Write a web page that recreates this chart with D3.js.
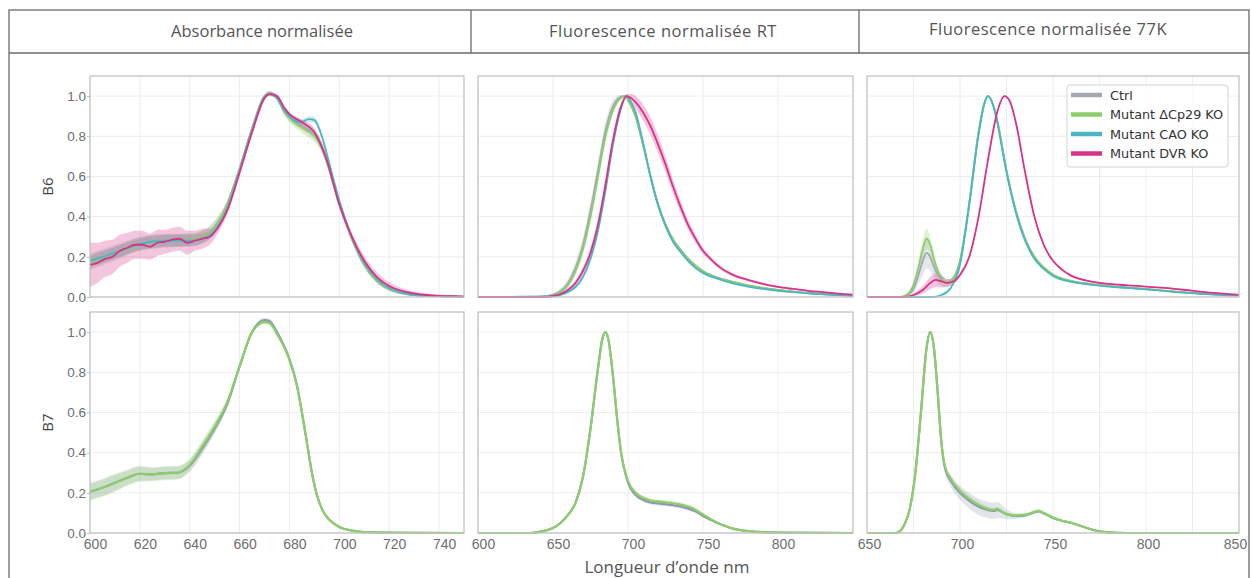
<!DOCTYPE html>
<html>
<head>
<meta charset="utf-8">
<script src="https://cdn.jsdelivr.net/npm/d3@7"></script>
<style>
  body { margin: 0; background: #fff; }
  svg { font-family: "Open Sans", sans-serif; }
  .tick text { fill: #6e6e6e; font-size: 13.5px; }
  .domain { display: none; }
</style>
</head>
<body>
<script>
// ---- data: [wavelength nm, mean, sd] ----
const columns = ["Absorbance normalisée", "Fluorescence normalisée RT", "Fluorescence normalisée 77K"];
const rows = ["B6", "B7"];
const seriesNames = ["Ctrl", "Mutant ΔCp29 KO", "Mutant CAO KO", "Mutant DVR KO"];
const seriesColors = ["#a3a8b3", "#8ccd6c", "#4cb5c3", "#d9328a"];
const yTicks = [0, 0.2, 0.4, 0.6, 0.8, 1.0];
const xTicksAbs = [600, 620, 640, 660, 680, 700, 720, 740];
const xTicksRT = [600, 650, 700, 750, 800];
const xTicks77 = [650, 700, 750, 800, 850];
const xGrid77 = [675, 700, 725, 750, 775, 800, 825];

// B6 absorbance
const absB6_ctrl = [[600,0.175,0.04],[610,0.22,0.04],[620,0.265,0.035],[630,0.28,0.035],[640,0.285,0.03],[645,0.3,0.03],[650,0.35,0.03],[655,0.46,0.02],[660,0.64,0.015],[665,0.84,0.01],[670,1.0,0.01],[672,1.015,0.01],[675,0.99,0.01],[678,0.92,0.015],[680,0.895,0.02],[684,0.86,0.02],[688,0.83,0.025],[690,0.81,0.025],[693,0.75,0.02],[695,0.68,0.02],[700,0.47,0.015],[705,0.29,0.015],[710,0.16,0.015],[715,0.08,0.01],[720,0.04,0.01],[725,0.02,0.008],[730,0.01,0.005],[740,0.004,0.004],[750,0.002,0.003]];
const absB6_cp29 = [[600,0.17,0.03],[610,0.22,0.03],[620,0.26,0.03],[630,0.28,0.03],[640,0.285,0.03],[645,0.3,0.03],[650,0.35,0.03],[655,0.46,0.02],[660,0.64,0.015],[665,0.84,0.01],[670,1.0,0.01],[672,1.015,0.01],[675,0.99,0.01],[678,0.92,0.015],[680,0.89,0.02],[684,0.85,0.025],[688,0.82,0.03],[690,0.8,0.03],[693,0.74,0.025],[695,0.67,0.02],[700,0.46,0.015],[705,0.29,0.015],[710,0.16,0.015],[715,0.08,0.01],[720,0.04,0.01],[725,0.02,0.008],[730,0.01,0.005],[740,0.004,0.004],[750,0.002,0.003]];
const absB6_cao = [[600,0.18,0.03],[610,0.22,0.03],[620,0.265,0.03],[630,0.28,0.03],[640,0.28,0.03],[645,0.29,0.025],[650,0.33,0.02],[655,0.44,0.02],[660,0.63,0.015],[665,0.83,0.01],[670,0.995,0.01],[672,1.01,0.01],[675,0.99,0.01],[678,0.93,0.01],[680,0.9,0.01],[684,0.87,0.01],[688,0.885,0.015],[690,0.88,0.015],[693,0.8,0.015],[695,0.71,0.015],[700,0.48,0.015],[705,0.3,0.015],[710,0.17,0.015],[715,0.09,0.01],[720,0.045,0.01],[725,0.022,0.008],[730,0.01,0.005],[740,0.004,0.004],[750,0.002,0.003]];
const absB6_dvr = [[600,0.16,0.11],[603,0.17,0.1],[606,0.19,0.09],[609,0.2,0.085],[612,0.23,0.08],[615,0.245,0.075],[618,0.26,0.07],[621,0.26,0.07],[624,0.25,0.065],[627,0.27,0.065],[630,0.275,0.06],[633,0.285,0.06],[636,0.29,0.06],[639,0.27,0.06],[642,0.28,0.05],[645,0.29,0.05],[648,0.3,0.04],[651,0.34,0.03],[655,0.43,0.02],[660,0.62,0.02],[665,0.82,0.015],[670,0.99,0.01],[672,1.01,0.01],[675,1.0,0.01],[678,0.94,0.01],[680,0.91,0.01],[685,0.87,0.015],[690,0.82,0.02],[695,0.68,0.02],[700,0.46,0.02],[705,0.3,0.02],[710,0.18,0.025],[715,0.1,0.025],[720,0.055,0.02],[725,0.03,0.015],[730,0.018,0.01],[735,0.01,0.008],[740,0.006,0.006],[745,0.004,0.005],[750,0.002,0.004]];

// B6 fluorescence RT
const rtB6_ctrl = [[600,0,0],[640,0,0.001],[645,0.004,0.003],[650,0.012,0.006],[655,0.03,0.012],[660,0.07,0.02],[665,0.145,0.03],[670,0.26,0.04],[675,0.43,0.045],[680,0.63,0.045],[685,0.83,0.04],[690,0.95,0.03],[695,0.995,0.01],[698,1.0,0.005],[700,0.98,0.01],[705,0.9,0.015],[710,0.76,0.02],[715,0.6,0.02],[720,0.46,0.02],[725,0.36,0.015],[730,0.285,0.015],[735,0.235,0.01],[740,0.19,0.01],[745,0.155,0.01],[750,0.128,0.008],[760,0.095,0.006],[770,0.075,0.005],[780,0.058,0.004],[790,0.045,0.004],[800,0.035,0.003],[810,0.027,0.003],[820,0.02,0.002],[830,0.015,0.002],[840,0.011,0.002],[850,0.008,0.002]];
const rtB6_cp29 = [[600,0,0],[640,0,0.001],[645,0.003,0.003],[650,0.01,0.005],[655,0.025,0.01],[660,0.06,0.015],[665,0.13,0.02],[670,0.24,0.03],[675,0.4,0.035],[680,0.6,0.035],[685,0.8,0.03],[690,0.93,0.025],[695,0.99,0.01],[698,1.0,0.005],[700,0.98,0.01],[705,0.9,0.015],[710,0.76,0.02],[715,0.6,0.02],[720,0.46,0.02],[725,0.36,0.015],[730,0.285,0.015],[735,0.235,0.01],[740,0.19,0.01],[745,0.155,0.01],[750,0.128,0.008],[760,0.095,0.006],[770,0.075,0.005],[780,0.058,0.004],[790,0.045,0.004],[800,0.035,0.003],[810,0.027,0.003],[820,0.02,0.002],[830,0.015,0.002],[840,0.011,0.002],[850,0.008,0.002]];
const rtB6_cao = [[600,0,0],[650,0.004,0.002],[655,0.01,0.004],[660,0.025,0.006],[665,0.05,0.01],[670,0.1,0.01],[675,0.19,0.015],[680,0.33,0.015],[685,0.53,0.015],[690,0.76,0.015],[695,0.93,0.01],[699,1.0,0.005],[702,0.97,0.01],[705,0.92,0.01],[710,0.77,0.01],[715,0.6,0.01],[720,0.46,0.01],[725,0.355,0.01],[730,0.275,0.008],[735,0.225,0.008],[740,0.18,0.006],[745,0.145,0.006],[750,0.12,0.005],[760,0.09,0.004],[770,0.068,0.004],[780,0.052,0.003],[790,0.04,0.003],[800,0.031,0.003],[810,0.024,0.002],[820,0.018,0.002],[830,0.013,0.002],[840,0.009,0.002],[850,0.006,0.002]];
const rtB6_dvr = [[600,0,0],[645,0,0.001],[650,0.005,0.003],[655,0.015,0.006],[660,0.035,0.01],[665,0.07,0.015],[670,0.13,0.02],[675,0.22,0.025],[680,0.36,0.03],[685,0.56,0.03],[690,0.78,0.03],[695,0.94,0.02],[699,1.0,0.01],[702,0.99,0.02],[705,0.97,0.03],[710,0.92,0.04],[715,0.85,0.045],[720,0.76,0.045],[725,0.66,0.04],[730,0.55,0.035],[735,0.45,0.03],[740,0.36,0.025],[745,0.29,0.02],[750,0.23,0.015],[755,0.19,0.012],[760,0.155,0.01],[770,0.11,0.008],[780,0.085,0.006],[790,0.065,0.005],[800,0.05,0.005],[810,0.04,0.004],[820,0.031,0.004],[830,0.024,0.003],[840,0.017,0.003],[850,0.012,0.003]];

// B6 fluorescence 77K
const k77B6_ctrl = [[650,0,0],[668,0,0.002],[672,0.01,0.01],[675,0.04,0.02],[678,0.12,0.05],[680,0.18,0.07],[682,0.22,0.08],[684,0.2,0.07],[686,0.15,0.05],[688,0.11,0.04],[690,0.085,0.03],[693,0.07,0.02],[696,0.085,0.01],[700,0.18,0.01],[705,0.47,0.01],[710,0.82,0.01],[713,0.96,0.01],[715,1.0,0.005],[718,0.95,0.01],[720,0.88,0.01],[725,0.63,0.01],[730,0.43,0.01],[735,0.29,0.01],[740,0.2,0.008],[745,0.145,0.006],[750,0.11,0.005],[760,0.078,0.004],[770,0.064,0.004],[780,0.054,0.003],[790,0.046,0.003],[800,0.039,0.003],[810,0.031,0.002],[820,0.023,0.002],[830,0.016,0.002],[840,0.011,0.002],[850,0.008,0.002]];
const k77B6_cp29 = [[650,0,0],[668,0,0.002],[672,0.015,0.01],[675,0.06,0.02],[678,0.16,0.04],[680,0.24,0.05],[682,0.29,0.05],[684,0.26,0.04],[686,0.19,0.03],[688,0.13,0.02],[690,0.095,0.015],[693,0.072,0.01],[696,0.09,0.01],[700,0.18,0.01],[705,0.47,0.01],[710,0.82,0.01],[713,0.96,0.01],[715,1.0,0.005],[718,0.95,0.01],[720,0.88,0.01],[725,0.63,0.01],[730,0.43,0.01],[735,0.29,0.01],[740,0.2,0.008],[745,0.148,0.006],[750,0.112,0.005],[760,0.08,0.004],[770,0.065,0.004],[780,0.055,0.003],[790,0.047,0.003],[800,0.04,0.003],[810,0.032,0.002],[820,0.024,0.002],[830,0.017,0.002],[840,0.012,0.002],[850,0.008,0.002]];
const k77B6_cao = [[650,0,0],[685,0,0.002],[690,0.01,0.003],[695,0.045,0.005],[700,0.16,0.008],[705,0.46,0.01],[710,0.81,0.01],[713,0.96,0.01],[715,1.0,0.005],[718,0.95,0.01],[720,0.87,0.01],[725,0.62,0.01],[730,0.42,0.008],[735,0.28,0.008],[740,0.19,0.006],[745,0.14,0.005],[750,0.105,0.004],[760,0.075,0.004],[770,0.062,0.003],[780,0.052,0.003],[790,0.045,0.003],[800,0.038,0.003],[810,0.03,0.002],[820,0.022,0.002],[830,0.016,0.002],[840,0.011,0.002],[850,0.008,0.002]];
const k77B6_dvr = [[650,0,0],[670,0,0.002],[675,0.01,0.005],[680,0.035,0.02],[684,0.07,0.03],[687,0.085,0.035],[690,0.078,0.03],[693,0.07,0.02],[697,0.08,0.01],[700,0.11,0.01],[705,0.2,0.01],[710,0.4,0.01],[715,0.68,0.01],[720,0.92,0.01],[724,1.0,0.005],[727,0.97,0.01],[730,0.87,0.01],[735,0.62,0.01],[740,0.4,0.01],[745,0.26,0.008],[750,0.18,0.006],[755,0.135,0.005],[760,0.105,0.005],[770,0.078,0.004],[780,0.065,0.004],[790,0.058,0.003],[800,0.052,0.003],[810,0.045,0.003],[820,0.036,0.003],[830,0.026,0.002],[840,0.018,0.002],[850,0.011,0.002]];

// B7 (ctrl and ΔCp29 only)
const absB7_ctrl = [[600,0.205,0.04],[605,0.225,0.04],[610,0.25,0.04],[615,0.275,0.035],[620,0.295,0.035],[625,0.292,0.03],[630,0.298,0.03],[635,0.3,0.03],[640,0.335,0.03],[645,0.42,0.03],[650,0.52,0.025],[655,0.64,0.02],[660,0.83,0.015],[665,1.0,0.012],[670,1.06,0.012],[672,1.055,0.012],[675,1.0,0.01],[680,0.865,0.01],[683,0.735,0.01],[685,0.6,0.01],[687,0.45,0.01],[689,0.3,0.01],[691,0.19,0.008],[693,0.12,0.006],[695,0.08,0.005],[700,0.03,0.004],[705,0.012,0.003],[710,0.004,0.003],[720,0.002,0.002],[730,0.001,0.002],[750,0,0.001]];
const absB7_cp29 = [[600,0.205,0.045],[605,0.225,0.045],[610,0.25,0.045],[615,0.275,0.04],[620,0.295,0.04],[625,0.292,0.035],[630,0.298,0.035],[635,0.3,0.035],[640,0.34,0.03],[645,0.43,0.03],[650,0.53,0.03],[655,0.65,0.02],[660,0.83,0.015],[665,1.0,0.01],[670,1.05,0.01],[672,1.045,0.01],[675,0.99,0.01],[680,0.86,0.01],[683,0.73,0.01],[685,0.6,0.01],[687,0.45,0.01],[689,0.3,0.01],[691,0.19,0.008],[693,0.12,0.006],[695,0.08,0.005],[700,0.03,0.004],[705,0.012,0.003],[710,0.004,0.003],[720,0.002,0.002],[730,0.001,0.002],[750,0,0.001]];
const rtB7_ctrl = [[600,0,0],[635,0,0.001],[640,0.005,0.002],[645,0.012,0.003],[650,0.025,0.004],[655,0.05,0.005],[660,0.09,0.006],[665,0.15,0.008],[670,0.28,0.01],[675,0.52,0.01],[680,0.82,0.01],[683,0.97,0.008],[685,1.0,0.005],[687,0.96,0.008],[690,0.78,0.01],[693,0.55,0.01],[695,0.42,0.01],[700,0.25,0.01],[705,0.19,0.01],[710,0.165,0.01],[715,0.152,0.01],[720,0.147,0.01],[725,0.143,0.01],[730,0.138,0.01],[735,0.132,0.01],[740,0.122,0.01],[745,0.108,0.008],[750,0.085,0.006],[755,0.066,0.005],[760,0.048,0.004],[765,0.034,0.003],[770,0.022,0.002],[775,0.014,0.002],[780,0.009,0.002],[790,0.004,0.001],[800,0.002,0.001],[850,0,0]];
const rtB7_cp29 = [[600,0,0],[635,0,0.001],[640,0.005,0.002],[645,0.012,0.003],[650,0.025,0.004],[655,0.05,0.005],[660,0.09,0.006],[665,0.15,0.008],[670,0.28,0.01],[675,0.52,0.01],[680,0.82,0.01],[683,0.97,0.008],[685,1.0,0.005],[687,0.96,0.008],[690,0.78,0.01],[693,0.55,0.01],[695,0.42,0.01],[700,0.26,0.01],[705,0.2,0.01],[710,0.175,0.01],[715,0.162,0.01],[720,0.157,0.01],[725,0.153,0.01],[730,0.148,0.01],[735,0.142,0.01],[740,0.132,0.01],[745,0.116,0.008],[750,0.092,0.006],[755,0.07,0.005],[760,0.05,0.004],[765,0.035,0.003],[770,0.022,0.002],[775,0.014,0.002],[780,0.009,0.002],[790,0.004,0.001],[800,0.002,0.001],[850,0,0]];
const k77B7_ctrl = [[650,0,0],[665,0,0.002],[667,0.005,0.003],[670,0.04,0.005],[673,0.12,0.008],[676,0.3,0.01],[679,0.6,0.01],[682,0.92,0.01],[684,1.0,0.005],[686,0.92,0.01],[688,0.7,0.01],[690,0.45,0.015],[692,0.32,0.02],[695,0.26,0.03],[700,0.2,0.035],[705,0.16,0.04],[710,0.13,0.04],[715,0.115,0.04],[718,0.11,0.04],[720,0.115,0.04],[722,0.108,0.035],[725,0.093,0.025],[730,0.085,0.015],[735,0.088,0.01],[740,0.103,0.008],[742,0.108,0.008],[745,0.098,0.008],[750,0.075,0.006],[755,0.06,0.005],[760,0.05,0.004],[765,0.035,0.003],[770,0.02,0.002],[775,0.008,0.002],[780,0.003,0.001],[790,0,0.001],[850,0,0]];
const k77B7_cp29 = [[650,0,0],[665,0,0.002],[667,0.005,0.003],[670,0.04,0.005],[673,0.12,0.008],[676,0.3,0.01],[679,0.6,0.01],[682,0.92,0.01],[684,1.0,0.005],[686,0.92,0.01],[688,0.7,0.01],[690,0.45,0.012],[692,0.33,0.012],[695,0.27,0.015],[700,0.21,0.015],[705,0.17,0.015],[710,0.14,0.015],[715,0.12,0.012],[718,0.115,0.01],[720,0.12,0.01],[722,0.11,0.01],[725,0.095,0.008],[730,0.087,0.008],[735,0.09,0.008],[740,0.105,0.008],[742,0.11,0.008],[745,0.1,0.008],[750,0.077,0.006],[755,0.061,0.005],[760,0.05,0.004],[765,0.035,0.003],[770,0.02,0.002],[775,0.008,0.002],[780,0.003,0.001],[790,0,0.001],[850,0,0]];

// ---- layout ----
const W = 1251, H = 578;
const svg = d3.select("body").append("svg").attr("width", W).attr("height", H);

// outer frame with header row
svg.append("rect").attr("x", 9).attr("y", 10).attr("width", 1240).attr("height", 600)
  .attr("fill", "none").attr("stroke", "#6a6a6a").attr("stroke-width", 1.3);
svg.append("line").attr("x1", 9).attr("x2", 1249).attr("y1", 53).attr("y2", 53)
  .attr("stroke", "#6a6a6a").attr("stroke-width", 1.3);
[471, 859].forEach(x => svg.append("line").attr("x1", x).attr("x2", x).attr("y1", 10).attr("y2", 53)
  .attr("stroke", "#6a6a6a").attr("stroke-width", 1.3));
const headerX = [262, 663, 1048];
const headerY = [37, 37, 35];
columns.forEach((c, i) => svg.append("text").attr("x", headerX[i]).attr("y", headerY[i])
  .attr("text-anchor", "middle").attr("fill", "#555").style("font-size", "16.5px")
  .style("letter-spacing", i === 0 ? "0px" : "0.5px").text(c));

const colX = [[90, 464], [478, 853], [867, 1239]];
const colDomain = [[600, 750], [600, 850], [650, 850]];
const rowY = [[297, 76], [533, 312]];
const xGrids = [xTicksAbs, xTicksRT, xGrid77];
const xLabels = [xTicksAbs, xTicksRT, xTicks77];
const labelShift = [5, 5, 2];

const panelData = [
  [[absB6_ctrl, absB6_cp29, absB6_cao, absB6_dvr], [rtB6_ctrl, rtB6_cp29, rtB6_cao, rtB6_dvr], [k77B6_ctrl, k77B6_cp29, k77B6_cao, k77B6_dvr]],
  [[absB7_ctrl, absB7_cp29], [rtB7_ctrl, rtB7_cp29], [k77B7_ctrl, k77B7_cp29]]
];

rows.forEach((rowName, r) => {
  const y = d3.scaleLinear().domain([0, 1.1]).range(rowY[r]);
  columns.forEach((colName, c) => {
    const x = d3.scaleLinear().domain(colDomain[c]).range(colX[c]);
    const g = svg.append("g");

    // gridlines
    g.selectAll(".gx").data(xGrids[c]).enter().append("line")
      .attr("x1", d => x(d)).attr("x2", d => x(d)).attr("y1", rowY[r][0]).attr("y2", rowY[r][1])
      .attr("stroke", "#ececec").attr("stroke-width", 1);
    g.selectAll(".gy").data(yTicks).enter().append("line")
      .attr("x1", colX[c][0]).attr("x2", colX[c][1]).attr("y1", d => y(d)).attr("y2", d => y(d))
      .attr("stroke", "#ececec").attr("stroke-width", 1);

    // bands then lines
    const series = panelData[r][c];
    const area = d3.area().x(d => x(d[0])).y0(d => y(Math.max(0, d[1] - d[2]))).y1(d => y(d[1] + d[2]))
      .curve(d3.curveMonotoneX);
    const line = d3.line().x(d => x(d[0])).y(d => y(d[1])).curve(d3.curveMonotoneX);
    series.forEach((s, i) => {
      g.append("path").datum(s).attr("d", area)
        .attr("fill", r === 1 && i === 0 ? "#9aa3c0" : seriesColors[i]).attr("fill-opacity", 0.28);
    });
    series.forEach((s, i) => {
      g.append("path").datum(s).attr("d", line).attr("fill", "none")
        .attr("stroke", r === 1 && i === 0 ? "#8f97ad" : seriesColors[i])
        .attr("stroke-width", r === 1 ? 2.2 : 1.8);
    });

    // panel frame
    g.append("rect").attr("x", colX[c][0]).attr("y", rowY[r][1])
      .attr("width", colX[c][1] - colX[c][0]).attr("height", rowY[r][0] - rowY[r][1])
      .attr("fill", "none").attr("stroke", "#c4c4c4").attr("stroke-width", 1.3);

    // y axis on first column
    if (c === 0) {
      svg.append("g").attr("transform", `translate(${colX[0][0]},0)`)
        .call(d3.axisLeft(y).tickValues(yTicks).tickFormat(d3.format(".1f")).tickSize(3).tickPadding(1))
        .call(a => a.selectAll(".tick line").attr("stroke", "#bbb"));
      svg.append("text").attr("transform", `translate(53,${(rowY[r][0] + rowY[r][1]) / 2}) rotate(-90)`)
        .attr("text-anchor", "middle").attr("fill", "#444").style("font-size", "15px").text(rowName);
    }
    // x axis on bottom row
    if (r === 1) {
      svg.append("g").attr("transform", `translate(${labelShift[c]},${rowY[1][0]})`)
        .call(d3.axisBottom(x).tickValues(xLabels[c]).tickSize(0).tickPadding(6))
        .call(a => a.selectAll(".tick text").style("font-size", "14px")
          .attr("dx", d => (c === 2 && d === 850) ? -6 : 0));
    }
  });
});

svg.append("text").attr("x", 667).attr("y", 573).attr("text-anchor", "middle")
  .attr("fill", "#555").style("font-size", "17px").text("Longueur d’onde nm");

// legend
const lg = svg.append("g").attr("transform", "translate(1067,85)");
lg.append("rect").attr("width", 161).attr("height", 82).attr("rx", 3)
  .attr("fill", "#fff").attr("fill-opacity", 0.85).attr("stroke", "#d4d4d4");
seriesNames.forEach((n, i) => {
  const yy = 10 + i * 19.5;
  lg.append("line").attr("x1", 4).attr("x2", 35).attr("y1", yy).attr("y2", yy)
    .attr("stroke", seriesColors[i]).attr("stroke-width", 4.5);
  lg.append("text").attr("x", 43).attr("y", yy + 4.5).attr("fill", "#333")
    .style("font-family", "DejaVu Sans").style("font-size", "12.8px").text(n);
});
</script>
</body>
</html>
